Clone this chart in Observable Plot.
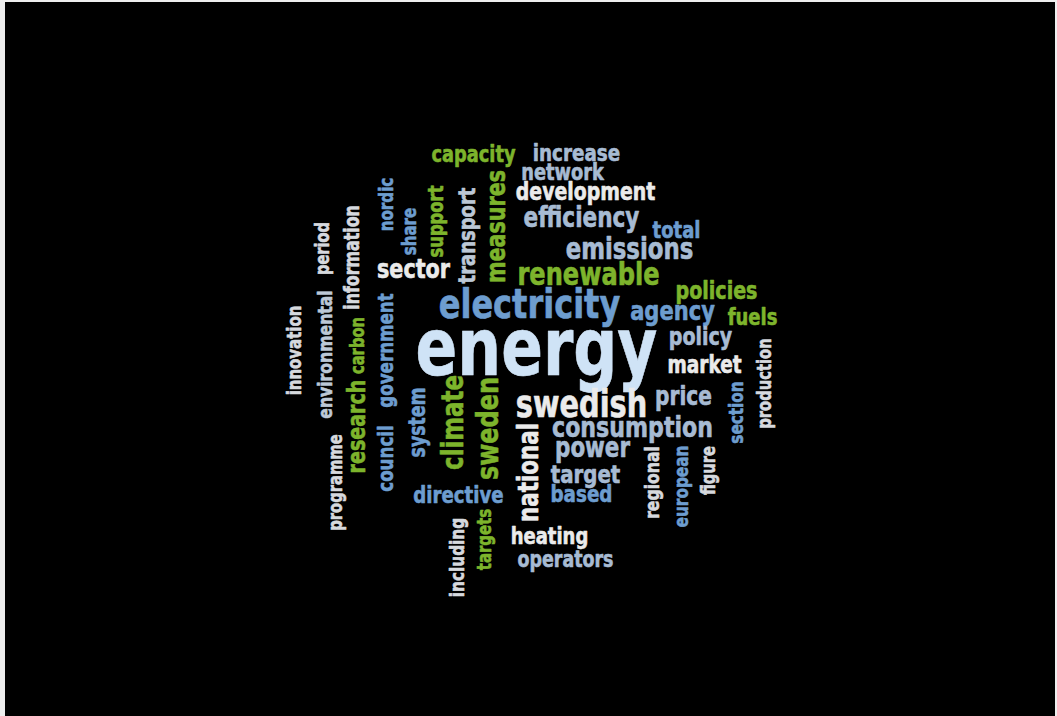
<!DOCTYPE html>
<html>
<head>
<meta charset="utf-8">
<script src="https://cdn.jsdelivr.net/npm/d3@7"></script>
<script src="https://cdn.jsdelivr.net/npm/@observablehq/plot@0.6"></script>
<style>
  html, body { margin: 0; padding: 0; background: #eeeeee; }
  #chart { margin-left: 5px; padding-top: 2px; }
  #chart svg { display: block; }
</style>
</head>
<body>
<div id="chart"></div>
<script>
// Word cloud data: word, frequency weight, layout position, orientation, colour group
const words = ["energy","electricity","swedish","renewable","measures","national","sweden","climate","consumption","emissions",
  "development","efficiency","power","agency","policy","market","price","target","based","heating",
  "operators","directive","sector","transport","support","share","nordic","information","period","environmental",
  "innovation","government","carbon","research","council","programme","system","including","targets","regional",
  "european","figure","section","production","policies","fuels","total","network","increase","capacity"];
const freq = [342,178,160,134,115,119,133,127,123,127,
  105,120,119,117,106,103,112,110,102,100,
  97,101,115,100,91,84,84,88,81,87,
  83,93,82,106,93,82,96,85,83,87,
  85,82,85,82,106,100,100,99,102,99];
const layoutX = [536,529,581,588,496,529,488,453,632,629,
  585,581,592,672,700,704,683,585,581,549,
  565,458,413,467,436,409,386,352,322,325,
  294,386,357,357,386,335,417,457,484,652,
  681,708,736,764,716,752,676,562,576,473];
const layoutY = [349,304,405,275,226,472,428,422,427,249,
  192,218,448,311,337,365,396,474,494,536,
  559,495,269,235,221,231,204,257,248,354,
  350,350,345,426,458,482,422,557,539,482,
  486,470,412,383,291,317,230,172,153,154];
const vertical = [0,0,0,0,1,1,1,1,0,0,
  0,0,0,0,0,0,0,0,0,0,
  0,0,0,1,1,1,1,1,1,1,
  1,1,1,1,1,1,1,1,1,1,
  1,1,1,1,0,0,0,0,0,0];
const group = ["pale","blue","white","green","green","white","green","green","steel","steel",
  "white","steel","steel","blue","steel","white","steel","steel","blue","white",
  "steel","blue","white","light","green","blue","blue","grey","grey","light",
  "grey","blue","green","green","blue","grey","blue","grey","green","grey",
  "blue","grey","blue","grey","green","green","blue","steel","steel","green"];

const groups = ["pale","blue","steel","light","white","grey","green"];
const palette = ["#cfe3f6","#6d9dcf","#a7bbd3","#bcc8d6","#ebebeb","#d6d9de","#7db42c"];

const data = words.map((w, i) => ({
  word: w, freq: freq[i], x: layoutX[i], y: layoutY[i],
  rot: vertical[i] ? -90 : 0, group: group[i]
}));

const stretch = 0.86; // horizontal squeeze to mimic a condensed display face

const chart = Plot.plot({
  width: 1050,
  height: 714,
  margin: 0,
  style: { background: "#000000" },
  x: { domain: [5, 1055], axis: null },
  y: { domain: [2, 716], axis: null, reverse: true },
  color: { domain: groups, range: palette },
  marks: [
    Plot.text(data, {
      x: "x", y: "y", text: "word",
      rotate: "rot",
      fill: "group",
      stroke: "group",
      strokeWidth: 0.6,
      fontSize: d => d.freq * 0.2 / stretch,
      fontWeight: "bold",
      fontFamily: "'DejaVu Sans Condensed', 'DejaVu Sans', sans-serif",
      textAnchor: "middle",
      lineAnchor: "middle"
    })
  ]
});
chart.querySelectorAll("text").forEach(t => {
  const tr = t.getAttribute("transform");
  if (tr) t.setAttribute("transform", tr + ` scale(${stretch},1)`);
});
document.getElementById("chart").appendChild(chart);
</script>
</body>
</html>
